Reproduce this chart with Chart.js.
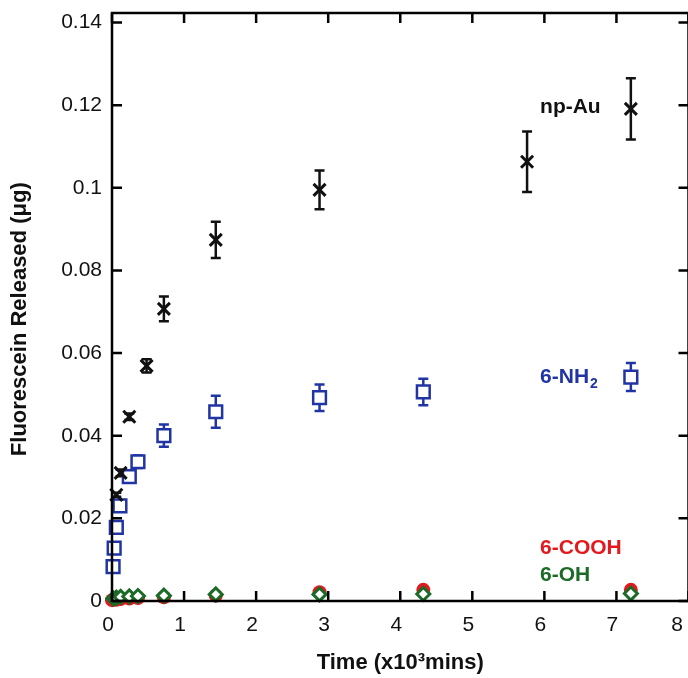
<!DOCTYPE html>
<html>
<head>
<meta charset="utf-8">
<script src="https://cdn.jsdelivr.net/npm/chart.js@4.4.1/dist/chart.umd.min.js"></script>
<style>
  html, body { margin: 0; padding: 0; background: #fff; overflow: hidden; }
  #wrap { width: 700px; height: 678px; }
</style>
</head>
<body>
<div id="wrap"><canvas id="chart1" width="700" height="678"></canvas></div>
<script>
// time in x10^3 mins, release in ug
var npAu_time = [0.06, 0.12, 0.24, 0.48, 0.72, 1.44, 2.88, 5.76, 7.2]
var npAu_val = [0.0257, 0.0310, 0.0446, 0.0569, 0.0707, 0.0874, 0.0995, 0.1063, 0.1191]
var npAu_err = [0.0005, 0.0008, 0.0008, 0.0016, 0.0030, 0.0044, 0.0047, 0.0073, 0.0074]

var nh2_time = [0.015, 0.03, 0.06, 0.11, 0.24, 0.36, 0.72, 1.44, 2.88, 4.32, 7.2]
var nh2_val = [0.0083, 0.0128, 0.0178, 0.0230, 0.0301, 0.0337, 0.0400, 0.0458, 0.0492, 0.0506, 0.0542]
var nh2_err = [0, 0, 0, 0, 0.0010, 0.0015, 0.0027, 0.0039, 0.0032, 0.0032, 0.0034]

var cooh_time = [0.0, 0.06, 0.12, 0.24, 0.36, 0.72, 1.44, 2.88, 4.32, 7.2]
var cooh_val = [0.0002, 0.0003, 0.0005, 0.0006, 0.0007, 0.0009, 0.0013, 0.0021, 0.0027, 0.0027]

var oh_time = [0.02, 0.06, 0.12, 0.24, 0.36, 0.72, 1.44, 2.88, 4.32, 7.2]
var oh_val = [0.0006, 0.0008, 0.0010, 0.0011, 0.0012, 0.0013, 0.0016, 0.0016, 0.0017, 0.0018]

var x_ticks = [0, 1, 2, 3, 4, 5, 6, 7, 8]
var y_ticks = [0, 0.02, 0.04, 0.06, 0.08, 0.1, 0.12, 0.14]

function pts(xs, ys) {
    return xs.map(function (x, i) { return { x: x, y: ys[i] } })
}

// text labels next to the series, in data units
var seriesLabels = [
    { text: 'np-Au', sub: '', x: 5.94, y: 0.1194, color: '#111111' },
    { text: '6-NH', sub: '2', x: 5.94, y: 0.0542, color: '#2035a3' },
    { text: '6-COOH', sub: '', x: 5.94, y: 0.0128, color: '#e3191f' },
    { text: '6-OH', sub: '', x: 5.94, y: 0.0063, color: '#1b6a27' }
]

var FONT = '"Liberation Sans", Arial, sans-serif'

var errorBars = {
    id: 'errorBars',
    beforeDatasetsDraw: function (chart) {
        var ctx = chart.ctx
        var xs = chart.scales.x, ys = chart.scales.y
        chart.data.datasets.forEach(function (ds) {
            if (!ds.errors) return
            ctx.save()
            ctx.strokeStyle = ds.borderColor
            ctx.lineWidth = 2.5
            ds.data.forEach(function (p, i) {
                var e = ds.errors[i]
                if (!e) return
                var px = xs.getPixelForValue(p.x)
                var top = ys.getPixelForValue(p.y + e)
                var bot = ys.getPixelForValue(p.y - e)
                ctx.beginPath()
                ctx.moveTo(px, top); ctx.lineTo(px, bot)
                ctx.moveTo(px - 5, top); ctx.lineTo(px + 5, top)
                ctx.moveTo(px - 5, bot); ctx.lineTo(px + 5, bot)
                ctx.stroke()
            })
            ctx.restore()
        })
    }
}

var frameAndLabels = {
    id: 'frameAndLabels',
    afterDraw: function (chart) {
        var ctx = chart.ctx
        var a = chart.chartArea
        var xs = chart.scales.x, ys = chart.scales.y
        ctx.save()
        ctx.strokeStyle = '#000'
        ctx.lineWidth = 2.5
        ctx.strokeRect(a.left, a.top, a.right - a.left, a.bottom - a.top)
        ctx.beginPath()
        x_ticks.forEach(function (v) {
            var px = xs.getPixelForValue(v)
            ctx.moveTo(px, a.bottom); ctx.lineTo(px, a.bottom - 10)
            ctx.moveTo(px, a.top); ctx.lineTo(px, a.top + 10)
        })
        y_ticks.forEach(function (v) {
            var py = ys.getPixelForValue(v)
            ctx.moveTo(a.left, py); ctx.lineTo(a.left + 10, py)
            ctx.moveTo(a.right, py); ctx.lineTo(a.right - 10, py)
        })
        ctx.stroke()

        ctx.textBaseline = 'middle'
        ctx.textAlign = 'left'
        seriesLabels.forEach(function (l) {
            var px = xs.getPixelForValue(l.x)
            var py = ys.getPixelForValue(l.y)
            ctx.fillStyle = l.color
            ctx.font = 'bold 21px ' + FONT
            ctx.fillText(l.text, px, py)
            if (l.sub) {
                var w = ctx.measureText(l.text).width
                ctx.font = 'bold 14px ' + FONT
                ctx.fillText(l.sub, px + w + 1, py + 7)
            }
        })
        ctx.restore()
    }
}

var chart1 = new Chart(
    document.getElementById('chart1'),
    {
        type: 'scatter',
        data: {
            datasets: [
                {
                    label: 'np-Au',
                    data: pts(npAu_time, npAu_val),
                    errors: npAu_err,
                    pointStyle: 'crossRot',
                    pointRadius: 8.5,
                    pointBorderWidth: 3,
                    borderColor: '#111111',
                    backgroundColor: '#111111',
                },
                {
                    label: '6-NH2',
                    data: pts(nh2_time, nh2_val),
                    errors: nh2_err,
                    pointStyle: 'rect',
                    pointRadius: 9,
                    pointBorderWidth: 2.5,
                    borderColor: '#2035a3',
                    backgroundColor: '#ffffff',
                },
                {
                    label: '6-OH',
                    data: pts(oh_time, oh_val),
                    pointStyle: 'rectRot',
                    pointRadius: 6.5,
                    pointBorderWidth: 3,
                    borderColor: '#1b6a27',
                    backgroundColor: '#ffffff',
                },
                {
                    label: '6-COOH',
                    data: pts(cooh_time, cooh_val),
                    pointStyle: 'circle',
                    pointRadius: 7,
                    pointBorderWidth: 0,
                    borderColor: '#e3191f',
                    backgroundColor: '#e3191f',
                },
            ]
        },
        options: {
            responsive: false,
            animation: false,
            clip: false,
            layout: { padding: { left: 0, top: 13, right: 8, bottom: 0 } },
            plugins: {
                legend: { display: false },
                tooltip: { enabled: false }
            },
            scales: {
                x: {
                    type: 'linear',
                    min: 0,
                    max: 8,
                    afterFit: function (s) {
                        s.height = 77
                        s.paddingLeft = 0
                        s.paddingRight = 0
                    },
                    grid: { display: false, drawTicks: false },
                    border: { display: false },
                    ticks: {
                        stepSize: 1,
                        padding: 12,
                        labelOffset: -4,
                        color: '#111',
                        font: { family: FONT, size: 21 },
                        // the last label sits inside the cropped edge
                        callback: function (v) { return v === 8 ? '8\u2002\u2009' : String(v) }
                    },
                    title: {
                        display: true,
                        text: 'Time (x10³mins)',
                        color: '#111',
                        padding: { top: 0, bottom: 2 },
                        font: { family: FONT, size: 22, weight: 'bold' }
                    }
                },
                y: {
                    min: 0,
                    max: 0.1423,
                    afterFit: function (s) {
                        s.width = 112
                        s.paddingTop = 0
                        s.paddingBottom = 0
                    },
                    grid: { display: false, drawTicks: false },
                    border: { display: false },
                    ticks: {
                        stepSize: 0.02,
                        includeBounds: false,
                        padding: 10,
                        color: '#111',
                        font: { family: FONT, size: 21 },
                        callback: function (v) { return String(+v.toFixed(2)) }
                    },
                    title: {
                        display: true,
                        text: 'Fluorescein Released (μg)\u00a0\u00a0\u00a0\u00a0',
                        color: '#111',
                        padding: { top: 7, bottom: 0 },
                        font: { family: FONT, size: 22, weight: 'bold' }
                    }
                }
            }
        },
        plugins: [errorBars, frameAndLabels]
    }
);
</script>
</body>
</html>
